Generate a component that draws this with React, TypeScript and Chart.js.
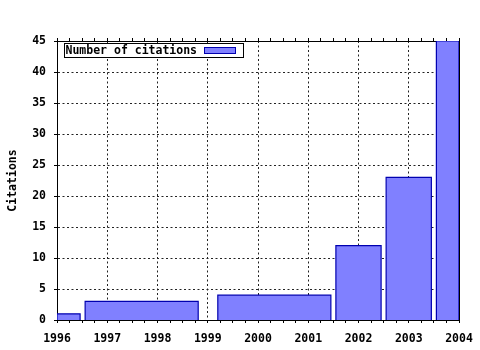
import { useEffect, useRef } from "react";
import Chart from "chart.js/auto";

// Data (bar extents on the year axis and citation counts)
const barStart = [1996, 1996.56, 1999.2, 2001.55, 2002.55, 2003.55];
const barEnd = [1996.46, 1998.81, 2001.45, 2002.45, 2003.45, 2004];
const barValue = [1, 3, 4, 12, 23, 45];

const xMin = 1996;
const xMax = 2004;
const yMin = 0;
const yMax = 45;
const yStep = 5;
const xMinorStep = 0.25;

const legendLabel = "Number of citations";
const yTitle = "Citations";

const BAR_FILL = "#8080ff";
const BAR_EDGE = "#0000b0";
const GRID = "#222222";
const FONT_FAMILY = "'DejaVu Sans Mono', 'Liberation Mono', monospace";
const FONT_SIZE = 11.5;

const legendPlugin = {
  id: "boxLegend",
  afterDatasetsDraw(chart: any) {
    const { ctx, chartArea } = chart;
    const x = Math.round(chartArea.left) + 7 + 0.5;
    const y = Math.round(chartArea.top) + 2 + 0.5;
    const w = 179;
    const h = 14;
    ctx.save();
    ctx.fillStyle = "#ffffff";
    ctx.fillRect(x, y, w, h);
    ctx.strokeStyle = "#000000";
    ctx.lineWidth = 1;
    ctx.strokeRect(x, y, w, h);
    ctx.font = `bold ${FONT_SIZE}px ${FONT_FAMILY}`;
    ctx.fillStyle = "#000000";
    ctx.textBaseline = "middle";
    ctx.textAlign = "left";
    ctx.fillText(legendLabel, x + 1, y + h / 2 + 0.5);
    ctx.fillStyle = BAR_FILL;
    ctx.fillRect(x + 140, y + 4, 31, 6);
    ctx.strokeStyle = BAR_EDGE;
    ctx.strokeRect(x + 140, y + 4, 31, 6);
    ctx.restore();
  },
};

export default function App() {
  const canvasRef = useRef<HTMLCanvasElement | null>(null);

  useEffect(() => {
    document.body.style.margin = "0";
    const canvas = canvasRef.current;
    if (!canvas) return;

    const datasets = barValue.map((v, i) => ({
      label: i === 0 ? legendLabel : "",
      data: [
        { x: barStart[i], y: 0 },
        { x: barStart[i], y: v },
        { x: barEnd[i], y: v },
        { x: barEnd[i], y: 0 },
      ],
      fill: "origin",
      backgroundColor: BAR_FILL,
      borderColor: BAR_EDGE,
      borderWidth: 1.2,
      pointRadius: 0,
      tension: 0,
    }));

    const font = { family: FONT_FAMILY, size: FONT_SIZE, weight: "bold" as const };

    const chart = new Chart(canvas, {
      type: "line",
      data: { datasets: datasets as any },
      plugins: [legendPlugin],
      options: {
        responsive: false,
        animation: false,
        layout: { padding: 0 },
        plugins: {
          legend: { display: false },
          tooltip: { enabled: false },
        },
        events: [],
        scales: {
          x: {
            type: "linear",
            position: "bottom",
            min: xMin,
            max: xMax,
            afterFit: (s: any) => {
              s.height = 30;
              s.paddingLeft = 0;
              s.paddingRight = 0;
            },
            ticks: {
              stepSize: xMinorStep,
              maxTicksLimit: 100,
              autoSkip: false,
              maxRotation: 0,
              padding: 9,
              color: "#000",
              font,
              callback: (v: any) => (Number(v) % 1 === 0 ? String(v) : ""),
            },
            grid: {
              color: (c: any) => (c.tick && c.tick.value % 1 === 0 ? GRID : "rgba(0,0,0,0)"),
              tickColor: "#000",
              tickLength: 3,
              lineWidth: 1,
            },
            border: { display: true, color: "#000", width: 1, dash: [2, 2.5] },
          },
          xTop: {
            type: "linear",
            position: "top",
            min: xMin,
            max: xMax,
            afterFit: (s: any) => {
              s.height = 41;
              s.paddingLeft = 0;
              s.paddingRight = 0;
            },
            ticks: { stepSize: xMinorStep, maxTicksLimit: 100, autoSkip: false, display: false },
            grid: { drawOnChartArea: false, tickColor: "#000", tickLength: 3 },
            border: { display: true, color: "#000", width: 1 },
          },
          y: {
            type: "linear",
            position: "left",
            min: yMin,
            max: yMax,
            afterFit: (s: any) => {
              s.width = 57;
              s.paddingTop = 0;
              s.paddingBottom = 0;
            },
            ticks: {
              stepSize: yStep,
              padding: 8,
              color: "#000",
              font,
            },
            grid: { color: GRID, tickColor: "#000", tickLength: 3, lineWidth: 1 },
            border: { display: true, color: "#000", width: 1, dash: [2, 2.5] },
            title: {
              display: true,
              text: yTitle,
              color: "#000",
              font,
              padding: { top: 6, bottom: 0 },
            },
          },
          yRight: {
            type: "linear",
            position: "right",
            min: yMin,
            max: yMax,
            afterFit: (s: any) => {
              s.width = 21;
            },
            ticks: { display: false, stepSize: yStep },
            grid: { drawOnChartArea: false, drawTicks: false },
            border: { display: true, color: "#000", width: 1 },
          },
        },
      } as any,
    });

    return () => chart.destroy();
  }, []);

  return (
    <div style={{ width: 480, height: 350 }}>
      <canvas ref={canvasRef} width={480} height={350} />
    </div>
  );
}
